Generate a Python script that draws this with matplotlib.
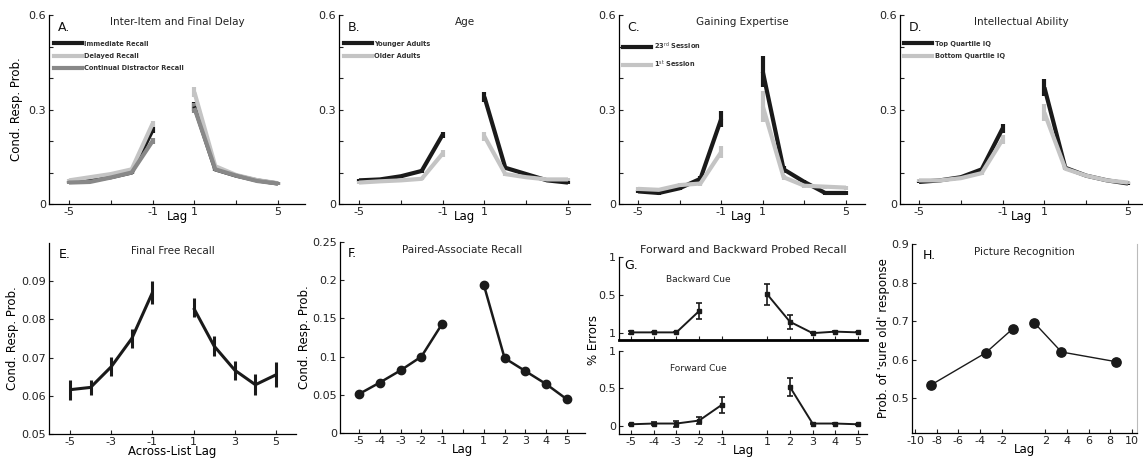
import numpy as np
import matplotlib
matplotlib.use('Agg')
import matplotlib.pyplot as plt

plt.rcParams['font.family'] = ['DejaVu Sans']

W, H = 1143, 461

lags = np.array([-5, -4, -3, -2, -1, 1, 2, 3, 4, 5])

# ---------------- Panel A : Inter-Item and Final Delay
a_immediate = [0.070, 0.075, 0.085, 0.100, 0.235, 0.310, 0.110, 0.090, 0.075, 0.065]
a_delayed = [0.075, 0.085, 0.095, 0.110, 0.255, 0.355, 0.120, 0.092, 0.076, 0.066]
a_distract = [0.068, 0.070, 0.084, 0.100, 0.200, 0.305, 0.110, 0.090, 0.073, 0.065]
a_err = [0.004, 0.004, 0.004, 0.005, 0.010, 0.015, 0.005, 0.004, 0.004, 0.004]

# ---------------- Panel B : Age
b_younger = [0.075, 0.078, 0.088, 0.105, 0.220, 0.340, 0.115, 0.095, 0.075, 0.068]
b_older = [0.068, 0.072, 0.075, 0.080, 0.160, 0.215, 0.095, 0.085, 0.078, 0.078]
b_err = [0.004, 0.004, 0.004, 0.005, 0.010, 0.015, 0.005, 0.004, 0.004, 0.004]

# ---------------- Panel C : Gaining Expertise
c_23rd = [0.040, 0.035, 0.050, 0.080, 0.270, 0.420, 0.110, 0.070, 0.035, 0.035]
c_1st = [0.048, 0.045, 0.060, 0.065, 0.165, 0.310, 0.085, 0.058, 0.055, 0.052]
c_err23 = [0.006, 0.005, 0.006, 0.008, 0.025, 0.050, 0.010, 0.007, 0.006, 0.006]
c_err1 = [0.006, 0.005, 0.006, 0.007, 0.020, 0.050, 0.008, 0.006, 0.006, 0.006]

# ---------------- Panel D : Intellectual Ability
d_top = [0.070, 0.075, 0.085, 0.110, 0.240, 0.370, 0.115, 0.090, 0.075, 0.065]
d_bottom = [0.075, 0.075, 0.082, 0.098, 0.205, 0.290, 0.112, 0.090, 0.075, 0.068]
d_err = [0.004, 0.004, 0.004, 0.005, 0.014, 0.028, 0.005, 0.004, 0.004, 0.004]

# ---------------- Panel E : Final Free Recall
e_vals = [0.0616, 0.0622, 0.0676, 0.0750, 0.0870, 0.0830, 0.0730, 0.0667, 0.0629, 0.0655]
e_err = [0.0026, 0.0020, 0.0025, 0.0025, 0.0030, 0.0025, 0.0027, 0.0025, 0.0027, 0.0033]

# ---------------- Panel F : Paired-Associate Recall
f_vals = [0.051, 0.066, 0.082, 0.100, 0.143, 0.194, 0.098, 0.081, 0.064, 0.044]

# ---------------- Panel G : Forward and Backward Probed Recall
g_back_lags = [-5, -4, -3, -2, 1, 2, 3, 4, 5]
g_back = [0.01, 0.01, 0.01, 0.29, 0.51, 0.15, 0.00, 0.02, 0.01]
g_back_err = [0.02, 0.0, 0.0, 0.11, 0.14, 0.09, 0.0, 0.01, 0.0]
g_fwd_lags = [-5, -4, -3, -2, -1, 2, 3, 4, 5]
g_fwd = [0.02, 0.03, 0.03, 0.07, 0.28, 0.52, 0.03, 0.03, 0.02]
g_fwd_err = [0.01, 0.02, 0.04, 0.05, 0.11, 0.12, 0.01, 0.01, 0.01]

# ---------------- Panel H : Picture Recognition
h_lags = [-8.5, -3.5, -1, 1, 3.5, 8.5]
h_vals = [0.535, 0.6175, 0.680, 0.6955, 0.620, 0.595]

BLACK = '#1a1a1a'
LIGHT = '#c4c4c4'
MID = '#888888'

fig = plt.figure(figsize=(W / 100, H / 100), dpi=100)


def axpx(l, t, r, b):
    return fig.add_axes([l / W, 1 - b / H, (r - l) / W, (b - t) / H])


def xlim_from(l, r, pm, pp, vm, vp):
    s = (pp - pm) / (vp - vm)
    return (vm - (pm - l) / s, vp + (r - pp) / s)


def style(ax, size=8):
    for s in ['top', 'right']:
        ax.spines[s].set_visible(False)
    for s in ['left', 'bottom']:
        ax.spines[s].set_linewidth(0.9)
    ax.tick_params(direction='in', length=3, width=0.8, labelsize=size, pad=2,
                   colors='#222222')


def split_plot(ax, x, y, err, color, lw=3, **kw):
    x = np.asarray(x); y = np.asarray(y); err = np.asarray(err)
    for m in (x < 0, x > 0):
        ax.errorbar(x[m], y[m], yerr=err[m], color=color, lw=lw, elinewidth=lw,
                    capsize=0, solid_capstyle='butt', **kw)


top_boxes = [(49, 15, 305, 204), (339, 15, 590, 204), (619, 15, 865, 204), (900, 15, 1143, 204)]
top_xpix = [(69, 278), (359, 568), (638, 846), (919, 1128)]
titles = ['Inter-Item and Final Delay', 'Age', 'Gaining Expertise', 'Intellectual Ability']
letters = ['A.', 'B.', 'C.', 'D.']
series = [
    [(a_immediate, a_err, BLACK, 'Immediate Recall'),
     (a_delayed, a_err, LIGHT, 'Delayed Recall'),
     (a_distract, a_err, MID, 'Continual Distractor Recall')],
    [(b_younger, b_err, BLACK, 'Younger Adults'),
     (b_older, b_err, LIGHT, 'Older Adults')],
    [(c_23rd, c_err23, BLACK, '23$^{\\rm rd}$ Session'),
     (c_1st, c_err1, LIGHT, '1$^{\\rm st}$ Session')],
    [(d_top, d_err, BLACK, 'Top Quartile IQ'),
     (d_bottom, d_err, LIGHT, 'Bottom Quartile IQ')],
]

for i in range(4):
    l, t, r, b = top_boxes[i]
    ax = axpx(l, t, r, b)
    style(ax)
    handles = []
    for vals, err, col, lab in series[i]:
        split_plot(ax, lags, vals, err, col, lw=3)
        h, = ax.plot([], [], color=col, lw=3, label=lab)
        handles.append(h)
    ax.set_xlim(*xlim_from(l, r, top_xpix[i][0], top_xpix[i][1], -5, 5))
    ax.set_ylim(0, 0.6)
    ax.set_yticks([0, 0.1, 0.2, 0.3, 0.4, 0.5, 0.6])
    ax.set_yticklabels(['0', '', '', '0.3', '', '', '0.6'])
    ax.set_xticks([-5, -3, -1, 1, 3, 5])
    ax.set_xticklabels(['-5', '', '-1', '1', '', '5'])
    ax.set_xlabel('Lag', fontsize=8.5, labelpad=-5)
    if i == 0:
        ax.set_ylabel('Cond. Resp. Prob.', fontsize=8.5, labelpad=4)
    ax.text(0.5, 0.99, titles[i], transform=ax.transAxes, ha='center', va='top',
            fontsize=7.5, color='#222222')
    ax.text(0.035, 0.97, letters[i], transform=ax.transAxes, ha='left', va='top',
            fontsize=9, color='#111111')
    leg = ax.legend(handles=handles, loc='upper left', bbox_to_anchor=(0.01, 0.875),
                    frameon=False, handlelength=4.2, handletextpad=0.4,
                    labelspacing=0.95, borderaxespad=0.2, borderpad=0.1,
                    prop={'size': 4.8, 'weight': 'bold'})
    for txt in leg.get_texts():
        txt.set_color('#333333')

# ---------------- E
l, t, r, b = 49, 243, 296, 434
ax = axpx(l, t, r, b)
style(ax)
split_plot(ax, lags, e_vals, e_err, BLACK, lw=2.2)
ax.set_xlim(*xlim_from(l, r, 70, 276, -5, 5))
ax.set_ylim(0.05, 0.1)
ax.set_yticks([0.05, 0.06, 0.07, 0.08, 0.09])
ax.set_yticklabels(['0.05', '0.06', '0.07', '0.08', '0.09'])
ax.set_xticks([-5, -3, -1, 1, 3, 5])
ax.set_xticklabels(['-5', '-3', '-1', '1', '3', '5'])
ax.set_xlabel('Across-List Lag', fontsize=8.5, labelpad=-1)
ax.set_ylabel('Cond. Resp. Prob.', fontsize=8.5, labelpad=2)
ax.text(0.5, 0.985, 'Final Free Recall', transform=ax.transAxes, ha='center', va='top',
        fontsize=7.5, color='#222222')
ax.text(0.04, 0.975, 'E.', transform=ax.transAxes, ha='left', va='top', fontsize=9)

# ---------------- F
l, t, r, b = 340, 242, 585, 433
ax = axpx(l, t, r, b)
style(ax)
lf = np.array(lags); fv = np.array(f_vals)
for m in (lf < 0, lf > 0):
    ax.plot(lf[m], fv[m], '-o', color=BLACK, lw=1.8, ms=6)
ax.set_xlim(*xlim_from(l, r, 359, 567, -5, 5))
ax.set_ylim(0, 0.25)
ax.set_yticks([0, 0.05, 0.1, 0.15, 0.2, 0.25])
ax.set_yticklabels(['0', '0.05', '0.1', '0.15', '0.2', '0.25'])
ax.set_xticks([-5, -4, -3, -2, -1, 0, 1, 2, 3, 4, 5])
ax.set_xticklabels(['-5', '-4', '-3', '-2', '-1', '', '1', '2', '3', '4', '5'])
ax.set_xlabel('Lag', fontsize=8.5, labelpad=-2)
ax.set_ylabel('Cond. Resp. Prob.', fontsize=8.5, labelpad=1)
ax.text(0.5, 0.985, 'Paired-Associate Recall', transform=ax.transAxes, ha='center',
        va='top', fontsize=7.5, color='#222222')
ax.text(0.03, 0.975, 'F.', transform=ax.transAxes, ha='left', va='top', fontsize=9)

# ---------------- G
gx = xlim_from(619, 867, 631, 858, -5, 5)
axu = axpx(619, 257, 867, 340)
axl = axpx(619, 351, 867, 434)
for ax, lx, vals, err, yl, cue, cy in [
        (axu, g_back_lags, g_back, g_back_err, (-0.09, 1.0), 'Backward Cue', 0.71),
        (axl, g_fwd_lags, g_fwd, g_fwd_err, (-0.11, 1.0), 'Forward Cue', 0.77)]:
    style(ax)
    xa = np.array(lx); va = np.array(vals); ea = np.array(err)
    for m in (xa < 0, xa > 0):
        ax.errorbar(xa[m], va[m], yerr=ea[m], fmt='-s', color=BLACK, lw=1.4,
                    ms=3.2, elinewidth=1.2, capsize=2, capthick=1.2)
    ax.set_xlim(*gx)
    ax.set_ylim(*yl)
    ax.set_yticks([0, 0.5, 1])
    ax.set_xticks([-5, -4, -3, -2, -1, 1, 2, 3, 4, 5])
    ax.text(-2.05, cy, cue, ha='center', va='center', fontsize=6.5, color='#222222')
axu.set_yticklabels(['1', '0.5', '1'])
axl.set_yticklabels(['0', '0.5', '1'])
axu.set_xticklabels([])
axu.spines['bottom'].set_linewidth(2)
axl.set_xticklabels(['-5', '-4', '-3', '-2', '-1', '1', '2', '3', '4', '5'])
axl.set_xlabel('Lag', fontsize=8.5, labelpad=-2)
axu.set_title('Forward and Backward Probed Recall', fontsize=8, pad=3, color='#222222')
axu.text(0.02, 0.97, 'G.', transform=axu.transAxes, ha='left', va='top', fontsize=9)
fig.text(593 / W, 1 - 340 / H, '% Errors', rotation=90, ha='center', va='center',
         fontsize=8.5)

# ---------------- H
l, t, r, b = 912, 244, 1137, 433
ax = axpx(l, t, r, b)
style(ax)
ax.spines['right'].set_visible(True)
ax.spines['right'].set_color('#bbbbbb')
ax.spines['right'].set_linewidth(0.8)
hx = np.array(h_lags); hv = np.array(h_vals)
for m in (hx < 0, hx > 0):
    ax.plot(hx[m], hv[m], '-', color=BLACK, lw=1.0)
ax.scatter(hx, hv, s=45, marker='o', color=BLACK, zorder=3)
ax.set_xlim(*xlim_from(l, r, 915, 1132, -10, 10))
ax.set_ylim(0.41, 0.9)
ax.set_yticks([0.5, 0.6, 0.7, 0.8, 0.9])
ax.set_yticklabels(['0.5', '0.6', '0.7', '0.8', '0.9'])
ax.set_xticks([-10, -8, -6, -4, -2, 2, 4, 6, 8, 10])
ax.set_xticklabels(['-10', '-8', '-6', '-4', '-2', '2', '4', '6', '8', '10'])
ax.set_xlabel('Lag', fontsize=8.5, labelpad=-2)
ax.set_ylabel("Prob. of 'sure old' response", fontsize=8.5, labelpad=1)
ax.text(0.5, 0.985, 'Picture Recognition', transform=ax.transAxes, ha='center',
        va='top', fontsize=7.5, color='#222222')
ax.text(0.05, 0.975, 'H.', transform=ax.transAxes, ha='left', va='top', fontsize=9)

fig.savefig('out.png', dpi=100)
